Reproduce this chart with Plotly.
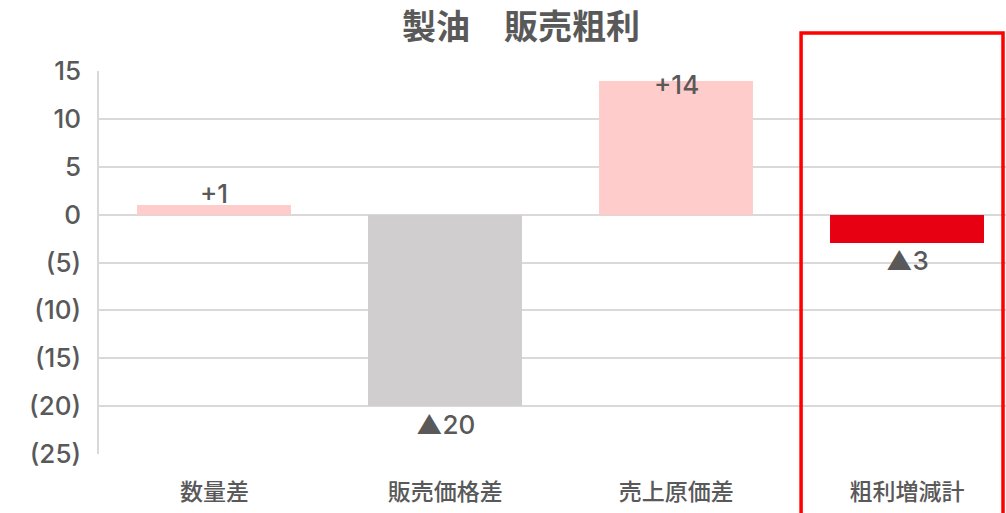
import plotly.graph_objects as go

categories = ["数量差", "販売価格差", "売上原価差", "粗利増減計"]
values = [1, -20, 14, -3]
labels = ["+1", "▲20", "+14", "▲3"]
colors = ["#FFCCCC", "#D0CECE", "#FFCCCC", "#E60012"]
tick_vals = [15, 10, 5, 0, -5, -10, -15, -20, -25]
tick_text = ["15", "10", "5", "0", "(5)", "(10)", "(15)", "(20)", "(25)"]
label_shift = [12, -18, -3.5, -17]

font_jp = "Noto Sans CJK JP"
font_num = "Inter, Noto Sans CJK JP"
gray_txt = "#595959"

W, H = 1006, 513
L = 98.5

fig = go.Figure()
fig.add_trace(go.Bar(
    x=list(range(len(categories))), y=values, marker_color=colors,
    width=0.667, marker_line_width=0, hoverinfo="skip", showlegend=False,
))

for i, (v, t, s) in enumerate(zip(values, labels, label_shift)):
    fig.add_annotation(x=i, y=v, text=t, showarrow=False, yshift=s,
                       font=dict(family=font_num, size=26, color=gray_txt, weight=500))

fig.add_shape(type="rect", xref="x", yref="paper",
              x0=2.541, x1=3.4156, y0=-0.3, y1=1.099,
              line=dict(color="#FF0000", width=3.5), fillcolor="rgba(0,0,0,0)",
              layer="above")

fig.update_layout(
    width=W, height=H,
    margin=dict(l=L, r=0, t=71, b=59),
    paper_bgcolor="white", plot_bgcolor="white",
    title=dict(text="<b>製油　販売粗利</b>", x=521 / W, xanchor="center",
               y=1 - 27.5 / H, yanchor="middle",
               font=dict(family=font_jp, size=34, color=gray_txt)),
    bargap=0,
    xaxis=dict(range=[-0.5, -0.5 + (W - L) / 231], tickvals=list(range(len(categories))),
               ticktext=categories, showgrid=False, zeroline=False, showline=False,
               ticks="", tickfont=dict(family=font_jp, size=23, color=gray_txt, weight=500),
               ticklabelstandoff=22),
    yaxis=dict(range=[-25, 15], tickvals=tick_vals, ticktext=tick_text,
               showgrid=True, gridcolor="#D9D9D9", gridwidth=1.5,
               zeroline=True, zerolinecolor="#D9D9D9", zerolinewidth=1.5,
               showline=True, linecolor="#D9D9D9", linewidth=1.5,
               ticks="", ticklabelstandoff=11,
               tickfont=dict(family=font_num, size=26, color=gray_txt, weight=500)),
)

fig.write_html("out.html", config={"displayModeBar": False},
               post_script="document.body.style.margin='0';")
